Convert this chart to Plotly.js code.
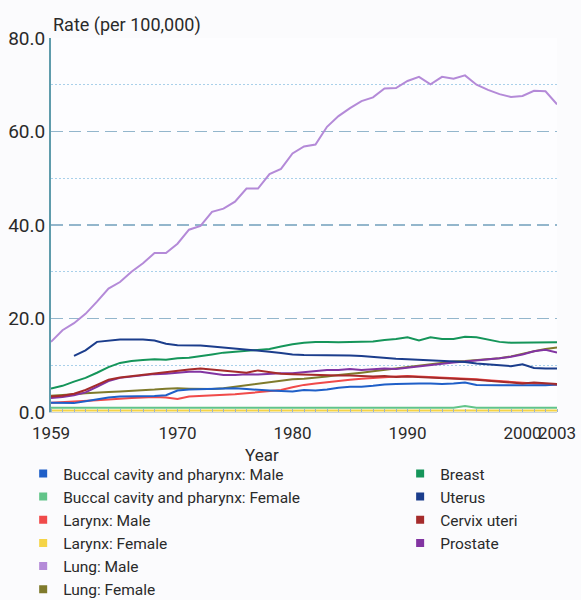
<!DOCTYPE html>
<html>
<head>
<meta charset="utf-8">
<script src="https://cdn.plot.ly/plotly-3.0.1.min.js"></script>
<style>
html,body{margin:0;padding:0;background:#fbfbfd;}
#chart{width:581px;height:600px;}
</style>
</head>
<body>
<div id="chart"></div>
<script>
// Years 1959-2003
const years = [1959,1960,1961,1962,1963,1964,1965,1966,1967,1968,1969,1970,1971,1972,1973,1974,1975,1976,1977,1978,1979,1980,1981,1982,1983,1984,1985,1986,1987,1988,1989,1990,1991,1992,1993,1994,1995,1996,1997,1998,1999,2000,2001,2002,2003];

const buccalMale   = [2.0,1.9,1.9,2.3,2.7,3.1,3.3,3.3,3.4,3.4,3.6,4.6,4.8,4.9,4.9,5.0,5.1,4.9,4.7,4.6,4.5,4.4,4.7,4.6,4.8,5.2,5.4,5.4,5.6,5.9,6.0,6.1,6.1,6.1,6.0,6.1,6.3,5.8,5.7,5.7,5.7,5.7,5.7,5.7,5.9];
const buccalFemale = [0.9,0.9,0.9,0.9,0.9,0.9,0.9,0.9,0.9,0.9,0.9,0.9,0.9,0.9,0.9,0.9,0.9,0.9,0.9,0.9,0.9,0.9,0.9,0.9,0.9,0.9,0.9,0.9,0.9,0.9,0.9,0.9,0.9,0.9,0.9,0.9,1.3,0.9,0.9,0.9,0.9,0.9,0.9,0.9,0.9];
const larynxMale   = [2.0,2.1,2.2,2.4,2.5,2.7,2.9,3.0,3.1,3.2,3.1,2.8,3.3,3.4,3.5,3.7,3.8,4.0,4.2,4.4,4.7,5.3,5.8,6.1,6.4,6.7,6.9,7.1,7.3,7.5,7.6,7.7,7.6,7.5,7.4,7.3,7.2,7.0,6.8,6.6,6.4,6.2,6.1,6.0,5.8];
const larynxFemale = [0.3,0.3,0.3,0.3,0.3,0.3,0.3,0.3,0.3,0.3,0.3,0.3,0.3,0.3,0.3,0.3,0.3,0.3,0.3,0.3,0.3,0.3,0.3,0.3,0.3,0.3,0.3,0.3,0.3,0.3,0.3,0.3,0.3,0.3,0.3,0.3,0.3,0.3,0.3,0.3,0.3,0.3,0.3,0.3,0.3];
const lungMale     = [15.0,17.5,19.0,21.0,23.6,26.4,27.8,30.0,31.8,34.0,34.0,36.0,39.0,39.8,42.8,43.5,45.0,47.8,47.8,50.9,52.0,55.3,56.8,57.2,61.0,63.3,65.0,66.5,67.3,69.2,69.3,70.8,71.7,70.1,71.7,71.3,72.0,70.0,68.9,68.0,67.4,67.6,68.7,68.6,65.8];
const lungFemale   = [3.5,3.6,3.8,4.0,4.2,4.3,4.4,4.5,4.6,4.8,5.0,5.1,5.0,4.9,4.9,5.1,5.4,5.8,6.1,6.4,6.7,7.0,7.1,7.3,7.6,7.9,8.1,8.4,8.7,9.0,9.3,9.6,9.9,10.2,10.5,10.8,10.9,11.1,11.3,11.5,11.9,12.5,13.0,13.5,13.8];
const breast       = [5.0,5.6,6.5,7.3,8.4,9.6,10.5,10.9,11.1,11.3,11.2,11.5,11.6,11.9,12.3,12.7,12.9,13.1,13.3,13.5,14.0,14.5,14.8,15.0,15.0,14.9,15.0,15.0,15.1,15.4,15.6,16.0,15.3,16.0,15.6,15.6,16.1,16.0,15.5,15.0,14.8,14.8,14.9,14.9,14.9];
const uterus       = [null,null,12.0,13.2,15.0,15.3,15.5,15.5,15.5,15.3,14.6,14.3,14.3,14.2,14.0,13.8,13.6,13.3,13.1,12.9,12.6,12.3,12.2,12.2,12.2,12.2,12.1,12.0,11.8,11.5,11.4,11.3,11.2,11.0,10.9,10.8,10.7,10.4,10.2,10.0,9.8,10.2,9.4,9.3,9.3];
const cervix       = [3.3,3.5,3.9,4.7,5.8,6.9,7.4,7.7,8.0,8.3,8.5,8.8,9.1,9.3,9.1,8.8,8.6,8.4,8.9,8.5,8.2,8.1,8.0,7.9,7.9,7.8,7.8,7.7,7.6,7.7,7.5,7.6,7.5,7.3,7.2,7.1,7.0,6.9,6.7,6.5,6.3,6.1,6.3,6.1,6.0];
const prostate     = [3.0,3.2,3.6,4.2,5.4,6.6,7.3,7.6,7.9,8.1,8.2,8.4,8.6,8.6,8.2,7.9,7.9,8.1,8.0,8.2,8.3,8.3,8.5,8.8,9.0,9.0,9.2,9.0,9.1,9.3,9.2,9.5,9.8,10.0,10.3,10.6,10.8,11.0,11.2,11.5,11.8,12.3,13.0,13.3,12.7];

const xTickVals = [1959,1970,1980,1990,2000,2003];
const xTickText = ['1959','1970','1980','1990','2000','2003'];
const yTickVals = [0,20,40,60,80];
const yTickText = ['0.0','20.0','40.0','60.0','80.0'];
const yMinorVals = [10,30,50,70];

const series = [
  {name:'Buccal cavity and pharynx: Male',   y:buccalMale,   color:'#1f5fc8', legend:'legend',  rank:1},
  {name:'Buccal cavity and pharynx: Female', y:buccalFemale, color:'#62c489', legend:'legend',  rank:2},
  {name:'Larynx: Male',                      y:larynxMale,   color:'#f04a4a', legend:'legend',  rank:3},
  {name:'Larynx: Female',                    y:larynxFemale, color:'#f5d447', legend:'legend',  rank:4},
  {name:'Lung: Male',                        y:lungMale,     color:'#b48ad8', legend:'legend',  rank:5},
  {name:'Lung: Female',                      y:lungFemale,   color:'#7f7a2c', legend:'legend',  rank:6},
  {name:'Breast',                            y:breast,       color:'#15955a', legend:'legend2', rank:1},
  {name:'Uterus',                            y:uterus,       color:'#1b3d8c', legend:'legend2', rank:2},
  {name:'Cervix uteri',                      y:cervix,       color:'#a52b2b', legend:'legend2', rank:3},
  {name:'Prostate',                          y:prostate,     color:'#8234a2', legend:'legend2', rank:4}
];

const FONT = 'Roboto, Lato, sans-serif';
const TXT = '#2a2a2a';

const traces = [];
const drawOrder = [1,3,5,2,0,9,8,6,7,4];
drawOrder.forEach(i => {
  const s = series[i];
  traces.push({
    x: years, y: s.y, type:'scatter', mode:'lines',
    line:{color:s.color, width:2},
    showlegend:false, name:s.name
  });
});
series.forEach(s => {
  traces.push({
    x:[null], y:[null], type:'scatter', mode:'markers',
    marker:{symbol:'square', size:8, color:s.color},
    name:s.name, legend:s.legend, legendrank:s.rank, showlegend:true
  });
});

const layout = {
  width:581, height:600,
  margin:{l:51, r:24, t:38, b:188, autoexpand:false},
  paper_bgcolor:'#fbfbfd',
  plot_bgcolor:'#fdfdff',
  font:{family:FONT, color:TXT, size:16},
  showlegend:true,
  xaxis:{
    range:[1959,2003],
    tickvals:xTickVals, ticktext:xTickText,
    tickangle:0,
    tickfont:{size:17, family:FONT, color:TXT},
    ticklabeloverflow:'allow',
    ticklabelstandoff:6,
    showgrid:false, zeroline:false,
    showline:true, linecolor:'#c8d4e0', linewidth:1,
    ticks:'',
    minor:{dtick:1, tick0:1959, ticks:'inside', ticklen:3, tickcolor:'#9fb4c8', showgrid:false},
    fixedrange:true
  },
  yaxis:{
    range:[0,80],
    tickvals:yTickVals, ticktext:yTickText,
    tickfont:{size:19, family:FONT, color:TXT},
    showgrid:true, gridcolor:'#93b6cc', gridwidth:1.5, griddash:'12px,6px',
    minor:{tickvals:yMinorVals, showgrid:true, gridcolor:'#a9d0ea', gridwidth:1, griddash:'2px,2px', ticks:''},
    zeroline:false,
    showline:true, linecolor:'#5f9cac', linewidth:2,
    ticks:'', ticklabelstandoff:0,
    fixedrange:true
  },
  annotations:[
    {
      text:'Rate (per 100,000)', xref:'paper', yref:'paper', x:0, y:1,
      xanchor:'left', yanchor:'bottom', showarrow:false,
      font:{size:18, family:FONT, color:TXT}
    },
    {
      text:'Year', xref:'paper', yref:'paper', x:0.417, y:-0.115,
      xanchor:'center', yanchor:'middle', showarrow:false,
      font:{size:17, family:FONT, color:TXT}
    }
  ],
  legend:{
    x:-0.055, xanchor:'left', y:-0.12, yanchor:'top',
    orientation:'v', bgcolor:'rgba(0,0,0,0)', borderwidth:0,
    font:{size:15.5, family:FONT, color:TXT},
    tracegroupgap:0, itemwidth:30, traceorder:'normal'
  },
  legend2:{
    x:0.690, xanchor:'left', y:-0.12, yanchor:'top',
    orientation:'v', bgcolor:'rgba(0,0,0,0)', borderwidth:0,
    font:{size:15.5, family:FONT, color:TXT},
    tracegroupgap:0, itemwidth:30, traceorder:'normal'
  }
};

Plotly.newPlot('chart', traces, layout, {displayModeBar:false, staticPlot:true});
</script>
</body>
</html>
